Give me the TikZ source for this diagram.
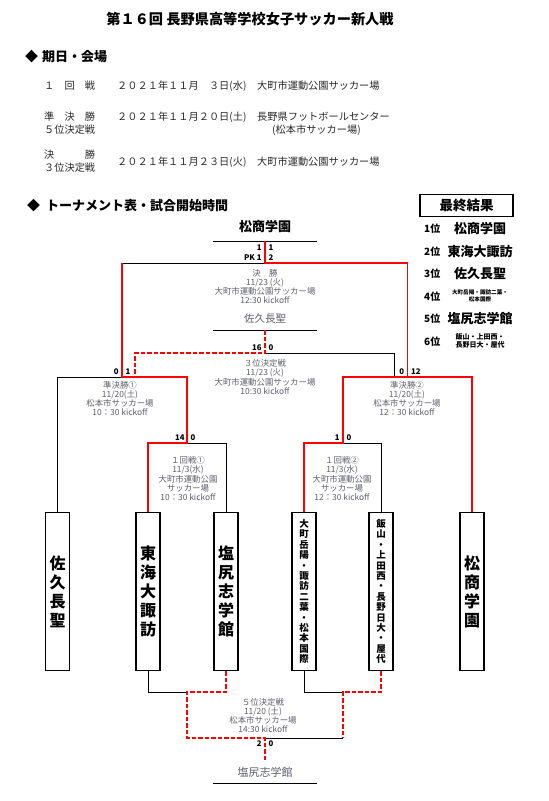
\documentclass[tikz,border=0pt]{standalone}
\usepackage{fontspec}
\setmainfont{Noto Sans CJK JP}
\usepackage{tikz}
\usetikzlibrary{positioning, calc}
\definecolor{wincolor}{RGB}{255,0,0}
\definecolor{infogray}{RGB}{95,95,110}
\definecolor{schedgray}{RGB}{40,40,40}

\tikzset{
  sched/.style={anchor=west, inner sep=0pt, text=schedgray, font=\fontsize{10.2}{13}\selectfont},
  heading/.style={anchor=west, inner sep=0pt, font=\bfseries\fontsize{13}{15}\selectfont},
  team/.style={draw, line width=1.6pt, minimum width=24pt, minimum height=158pt, inner sep=0pt,
    align=center, font=\bfseries\fontsize{16}{19}\selectfont},
  teamsmall/.style={team, font=\bfseries\fontsize{9.5}{10.4}\selectfont},
  plainline/.style={draw=black, line width=0.8pt},
  winline/.style={draw=wincolor, line width=1.6pt},
  winpath/.style={winline, dash pattern=on 4.5pt off 2pt},
  score/.style={inner sep=0.3pt, font=\bfseries\fontsize{7.8}{10}\selectfont},
  info/.style={text=infogray, align=center, inner sep=0pt, font=\fontsize{8.4}{9.1}\selectfont},
  placename/.style={text=infogray, inner sep=0pt, font=\fontsize{10.5}{12}\selectfont},
  rank/.style={anchor=west, inner sep=0pt, font=\bfseries\fontsize{10}{12}\selectfont},
  rankname/.style={inner sep=0pt, font=\bfseries\fontsize{13}{15}\selectfont},
  ranksmall/.style={inner sep=0pt, align=center, font=\bfseries\fontsize{5.6}{6.5}\selectfont},
}

\begin{document}
\begin{tikzpicture}[x=1pt, y=-1pt]
\useasboundingbox (0,0) rectangle (549,801);

% title and schedule
\node[font=\bfseries\fontsize{14.2}{16}\selectfont] (title) at (250,19) {第１６回 長野県高等学校女子サッカー新人戦};
\node[heading] (hdDates) at (25,57) {◆\hspace{4pt}期日・会場};

\node[sched] (firstRound) at (44,86) {１　回　戦};
\node[sched] (firstDate) at (117,86) {２０２１年１１月　３日(水)};
\node[sched] (firstVenue) at (257,86) {大町市運動公園サッカー場};

\node[sched] (semiRound) at (44,117) {準　決　勝};
\node[sched] (fifthRound) at (44,130) {５位決定戦};
\node[sched] (semiDate) at (117,117) {２０２１年１１月２０日(土)};
\node[sched] (semiVenue) at (257,117) {長野県フットボールセンター};
\node[sched] (semiVenueSub) at (272,130) {(松本市サッカー場)};

\node[sched] (finalRound) at (44,155) {決　　　勝};
\node[sched] (thirdRound) at (44,168) {３位決定戦};
\node[sched] (finalDate) at (117,162) {２０２１年１１月２３日(火)};
\node[sched] (finalVenue) at (257,162) {大町市運動公園サッカー場};

\node[heading] (hdBracket) at (27,206) {◆\hspace{6pt}トーナメント表・試合開始時間};

% final results
\node[draw, line width=1.6pt, minimum width=93pt, minimum height=22pt, inner sep=0pt,
  font=\bfseries\fontsize{13.5}{15}\selectfont] (resHead) at (466.5,205.5) {最終結果};
\node[rank] (rank1) at (424,229) {1位};
\node[rankname] (rankName1) at (480,229) {松商学園};
\node[rank] (rank2) at (424,252) {2位};
\node[rankname] (rankName2) at (480,252) {東海大諏訪};
\node[rank] (rank3) at (424,274) {3位};
\node[rankname] (rankName3) at (480,274) {佐久長聖};
\node[rank] (rank4) at (424,297) {4位};
\node[ranksmall] (rankName4) at (480,296) {大町岳陽・諏訪二葉・\\松本国際};
\node[rank] (rank5) at (424,319) {5位};
\node[rankname] (rankName5) at (480,319) {塩尻志学館};
\node[rank] (rank6) at (424,342) {6位};
\node[ranksmall, font=\bfseries\fontsize{7}{7.5}\selectfont] (rankName6) at (480,341) {飯山・上田西・\\長野日大・屋代};

% teams
\node[team] (saku) at (57.5,591.5) {佐\\久\\長\\聖};
\node[team] (tokai) at (148,591.5) {東\\海\\大\\諏\\訪};
\node[team] (shiojiri) at (226,591.5) {塩\\尻\\志\\学\\館};
\node[teamsmall] (omachi) at (304,591.5) {大\\町\\岳\\陽\\・\\諏\\訪\\二\\葉\\・\\松\\本\\国\\際};
\node[teamsmall] (iiyama) at (381,591.5) {飯\\山\\・\\上\\田\\西\\・\\長\\野\\日\\大\\・\\屋\\代};
\node[team] (matsusho) at (472,591.5) {松\\商\\学\\園};

% bracket corners
\coordinate (r1aM) at (187,443);
\coordinate (r1bM) at (343,443);
\coordinate (sfaM) at (122,377);
\coordinate (sfaR) at (187,377);
\coordinate (sfaT) at (135,377);
\coordinate (sfbL) at (343,377);
\coordinate (sfbM) at (407.5,377);
\coordinate (sfbR) at (472,377);
\coordinate (sfbT) at (394,377);
\coordinate (fnL) at (122,263);
\coordinate (fnM) at (265,263);
\coordinate (fnR) at (407.5,263);
\coordinate (fnTop) at (265,241);
\coordinate (tpM) at (265,353);
\coordinate (tpTop) at (265,330);
\coordinate (bpaM) at (187,692);
\coordinate (bpbM) at (343,692);
\coordinate (fifL) at (187,738);
\coordinate (fifM) at (265,738);
\coordinate (fifR) at (343,738);
\coordinate (fifBot) at (265,760);
\coordinate (champUL) at (213,241);
\coordinate (champUR) at (317,241);
\coordinate (thirdUL) at (213,330);
\coordinate (thirdUR) at (317,330);
\coordinate (fifthUL) at (213,783);
\coordinate (fifthUR) at (317,783);

% black lines
\draw[plainline] (champUL) -- (champUR);
\draw[plainline] (thirdUL) -- (thirdUR);
\draw[plainline] (fifthUL) -- (fifthUR);
\draw[plainline] (shiojiri.north) |- (r1aM);
\draw[plainline] (iiyama.north) |- (r1bM);
\draw[plainline] (saku.north) |- (sfaM);
\draw[plainline] (fnL) -- (fnM);
\draw[plainline] (tpM) -| (sfbT);
\draw[plainline] (tokai.south) |- (bpaM);
\draw[plainline] (omachi.south) |- (bpbM);
\draw[plainline] (fifM) -- (fifR);

% winners
\draw[winline] (tokai.north) |- (r1aM) -- (sfaR) -- (sfaM) -- (fnL);
\draw[winline] (omachi.north) |- (r1bM) -- (sfbL) -- (sfbR);
\draw[winline] (matsusho.north) -- (sfbR) -- (sfbM) -- (fnR) -- (fnM) -- (fnTop);
\draw[winpath] (tpTop) -- (tpM) -| (sfaT);
\draw[winpath] (shiojiri.south) |- (bpaM) -- (fifL) -- (fifM) -- (fifBot);
\draw[winpath] (iiyama.south) |- (bpbM) -- (fifR);

% scores
\node[score, align=right, below left=3pt and 3pt of fnTop] (finalScoreL) {1\\PK\ 1};
\node[score, align=left, below right=3pt and 3pt of fnTop] (finalScoreR) {1\\2};
\node[score, above left=2pt and 3pt of tpM] (thirdScoreL) {16};
\node[score, above right=2pt and 3pt of tpM] (thirdScoreR) {0};
\node[score, above left=2pt and 3pt of sfaM] (semiAScoreL) {0};
\node[score, above right=2pt and 3pt of sfaM] (semiAScoreR) {1};
\node[score, above left=2pt and 3pt of sfbM] (semiBScoreL) {0};
\node[score, above right=2pt and 3pt of sfbM] (semiBScoreR) {12};
\node[score, above left=2pt and 2pt of r1aM] (firstAScoreL) {14};
\node[score, above right=2pt and 3pt of r1aM] (firstAScoreR) {0};
\node[score, above left=2pt and 3pt of r1bM] (firstBScoreL) {1};
\node[score, above right=2pt and 3pt of r1bM] (firstBScoreR) {0};
\node[score, below left=2pt and 3pt of fifM] (fifthScoreL) {2};
\node[score, below right=2pt and 3pt of fifM] (fifthScoreR) {0};

% match info
\node[font=\bfseries\fontsize{13}{15}\selectfont, inner sep=0pt] (champName) at (265,227) {松商学園};
\node[info] (finalInfo) at (265,286.5) {決　勝\\11/23 (火)\\大町市運動公園サッカー場\\12:30 kickoff};
\node[placename] (thirdName) at (265,319) {佐久長聖};
\node[info] (thirdInfo) at (265,377) {３位決定戦\\11/23 (火)\\大町市運動公園サッカー場\\10:30 kickoff};
\node[info] (semiAInfo) at (120,398.5) {準決勝①\\11/20(土)\\松本市サッカー場\\10：30 kickoff};
\node[info] (semiBInfo) at (407,398.5) {準決勝②\\11/20(土)\\松本市サッカー場\\12：30 kickoff};
\node[info] (firstAInfo) at (188,478.5) {１回戦①\\11/3(水)\\大町市運動公園\\サッカー場\\10：30 kickoff};
\node[info] (firstBInfo) at (342,478.5) {１回戦②\\11/3(水)\\大町市運動公園\\サッカー場\\12：30 kickoff};
\node[info] (fifthInfo) at (263,715.5) {５位決定戦\\11/20 (土)\\松本市サッカー場\\14:30 kickoff};
\node[placename, font=\fontsize{11}{12}\selectfont] (fifthName) at (265,772) {塩尻志学館};
\end{tikzpicture}
\end{document}
